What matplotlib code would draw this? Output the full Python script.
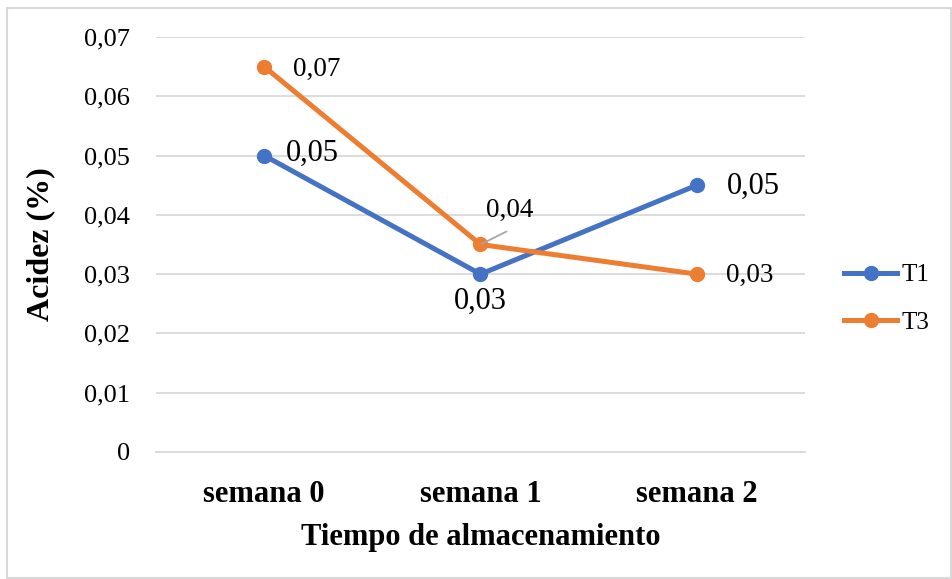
import matplotlib
matplotlib.use("Agg")
import matplotlib.pyplot as plt
from matplotlib.patches import Rectangle
import numpy as np

plt.rcParams['font.family'] = ['Liberation Serif', 'DejaVu Serif']

semanas = ['semana 0', 'semana 1', 'semana 2']
t1_values = [0.05, 0.03, 0.045]
t3_values = [0.065, 0.035, 0.03]
t1_labels = ['0,05', '0,03', '0,05']
t3_labels = ['0,07', '0,04', '0,03']
y_ticks = [0, 0.01, 0.02, 0.03, 0.04, 0.05, 0.06, 0.07]
y_ticklabels = ['0', '0,01', '0,02', '0,03', '0,04', '0,05', '0,06', '0,07']

blue = '#4472C4'
orange = '#ED7D31'
grid_gray = '#D9D9D9'

fig = plt.figure(figsize=(9.52, 5.79), dpi=100)
ax = fig.add_axes([156 / 952, 1 - 452 / 579, (805 - 156) / 952, (452 - 37) / 579])

x = np.arange(len(semanas))
ax.plot(x, t1_values, color=blue, lw=3.6, marker='o', ms=10, label='T1', zorder=3)
ax.plot(x, t3_values, color=orange, lw=3.6, marker='o', ms=10, label='T3', zorder=3)

ax.set_xlim(-0.5, len(semanas) - 0.5)
ax.set_ylim(0, 0.07)
ax.set_yticks(y_ticks)
ax.set_yticklabels(y_ticklabels, fontsize=19)
ax.set_xticks(x)
ax.set_xticklabels(semanas, fontsize=22, fontweight='bold')
ax.tick_params(axis='both', length=0)
ax.tick_params(axis='y', pad=18.5)
ax.tick_params(axis='x', pad=20.5)
ax.grid(axis='y', color=grid_gray, lw=1.3)
ax.set_axisbelow(True)
for side in ['top', 'right', 'left']:
    ax.spines[side].set_visible(False)
ax.spines['bottom'].set_color(grid_gray)
ax.spines['bottom'].set_linewidth(1.3)

ax.set_xlabel('Tiempo de almacenamiento', fontsize=22, fontweight='bold', labelpad=10)
ax.set_ylabel('Acidez (%)', fontsize=23, fontweight='bold', labelpad=21)

# data labels (offsets in pixels)
t1_offsets = [(22, 2), (0, -27), (30, -1)]
t1_align = ['left', 'center', 'left']
for i, (lab, off, ha) in enumerate(zip(t1_labels, t1_offsets, t1_align)):
    ax.annotate(lab, (x[i], t1_values[i]), xytext=off, textcoords='offset pixels',
                ha=ha, va='center', fontsize=22)

t3_offsets = [(29, -3), (29, 34), (29, -1)]
t3_align = ['left', 'center', 'left']
for i, (lab, off, ha) in enumerate(zip(t3_labels, t3_offsets, t3_align)):
    ax.annotate(lab, (x[i], t3_values[i]), xytext=off, textcoords='offset pixels',
                ha=ha, va='center', fontsize=19.5)

# leader line for the semana 1 label of T3
ax.annotate('', xy=(x[1], t3_values[1]), xytext=(26, 13), textcoords='offset pixels',
            arrowprops=dict(arrowstyle='-', color='#A6A6A6', lw=1.3, shrinkA=0, shrinkB=1))

leg = ax.legend(loc='center left', bbox_to_anchor=(1.026, 0.369), frameon=False,
                fontsize=18, handlelength=2.1, labelspacing=1.0, handletextpad=0.2)

# outer chart border
fig.patches.append(Rectangle((7 / 952, 1 / 579), 944 / 952, 570 / 579,
                             transform=fig.transFigure, fill=False,
                             edgecolor=grid_gray, lw=1.5))

fig.savefig('out.png', dpi=100)
